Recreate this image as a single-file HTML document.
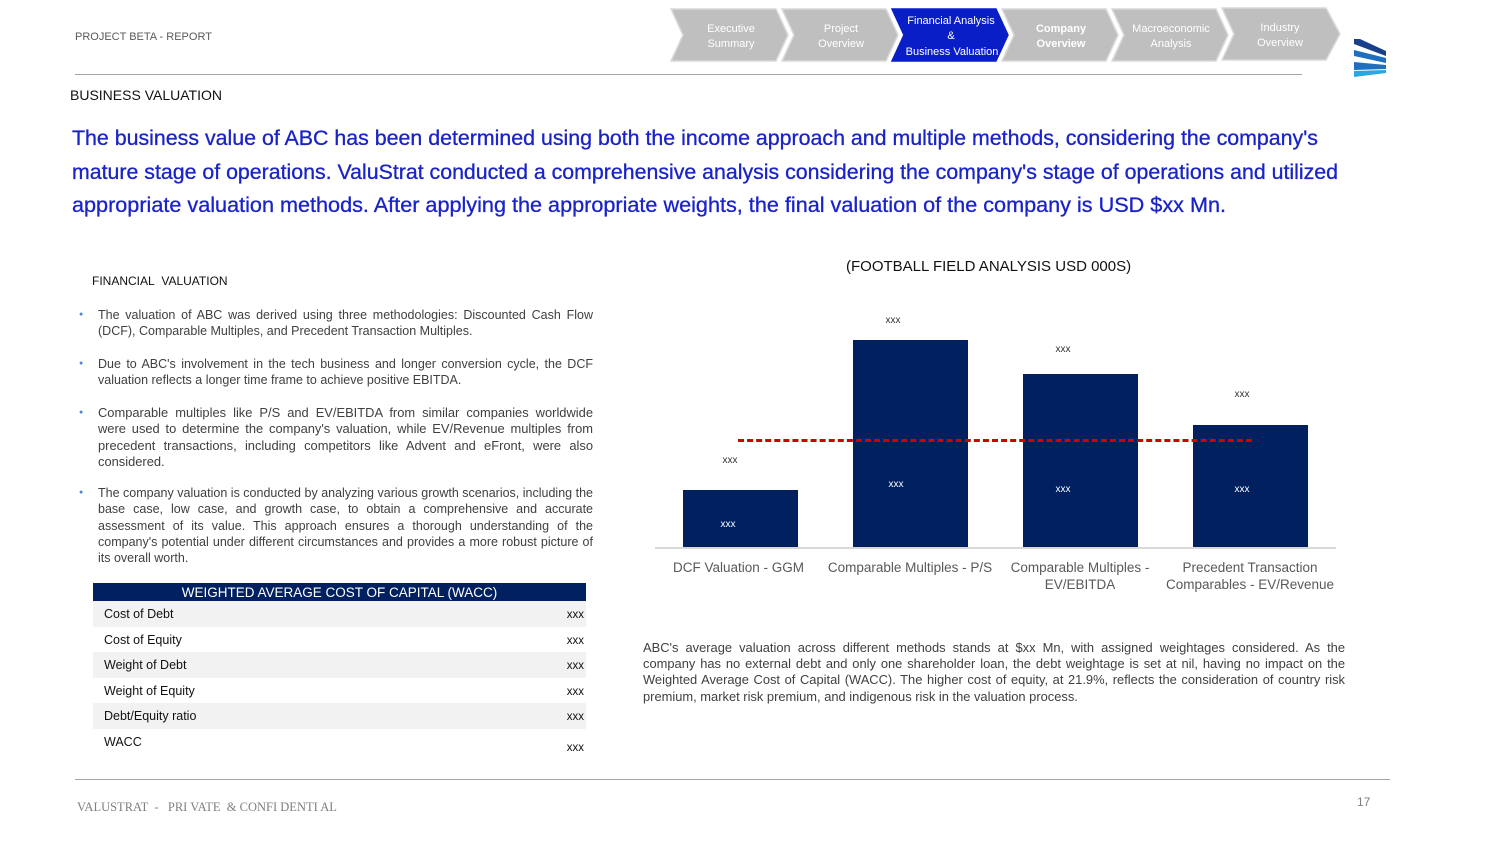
<!DOCTYPE html>
<html><head><meta charset="utf-8"><style>
body{margin:0;width:1500px;height:844px;background:#fff;position:relative;overflow:hidden;font-family:"Liberation Sans",sans-serif}
.a{position:absolute}
.b{font-size:12.5px;color:#404040;line-height:16.3px;text-align:justify;width:495px;left:98px}
.dot{position:absolute;left:-19px;top:0;color:#4a86c8;font-size:7px}
.row{position:absolute;left:93px;width:493px;height:25.5px;font-size:12.5px;color:#111}
.row span{position:absolute;left:11px;top:6px}
.row i{position:absolute;right:2px;top:8px;font-style:normal;font-size:11.5px}
.lab{position:absolute;font-size:13.5px;color:#595959;text-align:center;line-height:17px}
.v{position:absolute;font-size:10px;color:#333;width:60px;text-align:center}
.w{color:#fff}
</style></head><body>
<div class="a" style="left:75px;top:31px;font-size:11px;color:#595959">PROJECT BETA - REPORT</div>
<svg class="a" style="left:668px;top:6px" width="730" height="72">
<g fill="#bfbfbf" stroke="#d9d9d9" stroke-width="1.5">
<polygon points="3,3 108,3 120,29 108,55 3,55 15,29"/>
<polygon points="114,3 218,3 230,29 218,55 114,55 126,29"/>
<polygon points="224,3 328,3 340,29 328,55 224,55 236,29" fill="#0a1ec8" stroke="#0a1ec8"/>
<polygon points="334,3 438,3 450,29 438,55 334,55 346,29"/>
<polygon points="444,3 548,3 560,29 548,55 444,55 456,29"/>
<polygon points="554,2 658,2 672,28 658,54 554,54 566,28"/>
</g>
<g font-family="Liberation Sans,sans-serif" font-size="11" fill="#fff" text-anchor="middle">
<text x="63" y="26">Executive</text><text x="63" y="41">Summary</text>
<text x="173" y="26">Project</text><text x="173" y="41">Overview</text>
<text x="283" y="18">Financial Analysis</text><text x="283" y="33">&amp;</text><text x="284" y="49">Business Valuation</text>
<text x="393" y="26" font-weight="bold">Company</text><text x="393" y="41" font-weight="bold">Overview</text>
<text x="503" y="26">Macroeconomic</text><text x="503" y="41">Analysis</text>
<text x="612" y="25">Industry</text><text x="612" y="40">Overview</text>
</g>
<polygon points="686,33 692,33 718,45 718,50 686,38" fill="#1a3f8a"/>
<polygon points="686,44 718,52 718,57 686,50" fill="#1f6fc0"/>
<polygon points="686,56 718,59 718,63 686,64 686,60" fill="#1f6fc0"/>
<polygon points="686,65 718,64 718,67 686,71" fill="#29a8e0"/>
</svg>
<div class="a" style="left:75px;top:74px;width:1227px;height:1px;background:#a6a6a6"></div>
<div class="a" style="left:70px;top:87px;font-size:14px;color:#111">BUSINESS VALUATION</div>
<svg class="a" style="left:0;top:120px" width="1500" height="110" font-family="Liberation Sans,sans-serif" font-size="21" fill="#1a23c8" stroke="#1a23c8" stroke-width="0.3">
<text x="72" y="25" textLength="1246" lengthAdjust="spacingAndGlyphs">The business value of ABC has been determined using both the income approach and multiple methods, considering the company's</text>
<text x="72" y="59" textLength="1266" lengthAdjust="spacingAndGlyphs">mature stage of operations. ValuStrat conducted a comprehensive analysis considering the company's stage of operations and utilized</text>
<text x="72" y="92" textLength="1154" lengthAdjust="spacingAndGlyphs">appropriate valuation methods. After applying the appropriate weights, the final valuation of the company is USD $xx Mn.</text>
</svg>
<div class="a" style="left:92px;top:274px;font-size:12px;color:#111">FINANCIAL&nbsp; VALUATION</div>
<div class="a b" style="top:307px"><span class="dot">●</span>The valuation of ABC was derived using three methodologies: Discounted Cash Flow (DCF), Comparable Multiples, and Precedent Transaction Multiples.</div>
<div class="a b" style="top:356px"><span class="dot">●</span>Due to ABC's involvement in the tech business and longer conversion cycle, the DCF valuation reflects a longer time frame to achieve positive EBITDA.</div>
<div class="a b" style="top:405px;font-size:12.9px"><span class="dot">●</span>Comparable multiples like P/S and EV/EBITDA from similar companies worldwide were used to determine the company's valuation, while EV/Revenue multiples from precedent transactions, including competitors like Advent and eFront, were also considered.</div>
<div class="a b" style="top:485px"><span class="dot">●</span>The company valuation is conducted by analyzing various growth scenarios, including the base case, low case, and growth case, to obtain a comprehensive and accurate assessment of its value. This approach ensures a thorough understanding of the company's potential under different circumstances and provides a more robust picture of its overall worth.</div>
<div class="a" style="left:93px;top:583px;width:493px;height:18px;background:#002060;color:#fff;font-size:13.5px;text-align:center;line-height:20px">WEIGHTED AVERAGE COST OF CAPITAL (WACC)</div>
<div class="row" style="top:601px;background:#f2f2f2"><span>Cost of Debt</span><i>xxx</i></div>
<div class="row" style="top:626.5px"><span>Cost of Equity</span><i>xxx</i></div>
<div class="row" style="top:652px;background:#f2f2f2"><span>Weight of Debt</span><i>xxx</i></div>
<div class="row" style="top:677.5px"><span>Weight of Equity</span><i>xxx</i></div>
<div class="row" style="top:703px;background:#f2f2f2"><span>Debt/Equity ratio</span><i>xxx</i></div>
<div class="row" style="top:728.5px"><span>WACC</span><i style="top:13px">xxx</i></div>
<div class="a" style="left:846px;top:258px;font-size:15px;color:#111">(FOOTBALL FIELD ANALYSIS USD 000S)</div>
<div class="a" style="left:655px;top:547px;width:681px;height:2px;background:#d9d9d9"></div>
<div class="a" style="left:683px;top:490px;width:115px;height:57px;background:#002060"></div>
<div class="a" style="left:853px;top:340px;width:115px;height:207px;background:#002060"></div>
<div class="a" style="left:1023px;top:374px;width:115px;height:173px;background:#002060"></div>
<div class="a" style="left:1193px;top:425px;width:115px;height:122px;background:#002060"></div>
<div class="a" style="left:738px;top:439px;width:514px;height:0;border-top:3px dashed #d00000"></div>
<div class="v" style="left:700px;top:455px">xxx</div><div class="v w" style="left:698px;top:519px">xxx</div>
<div class="v" style="left:863px;top:315px">xxx</div><div class="v w" style="left:866px;top:479px">xxx</div>
<div class="v" style="left:1033px;top:344px">xxx</div><div class="v w" style="left:1033px;top:484px">xxx</div>
<div class="v" style="left:1212px;top:389px">xxx</div><div class="v w" style="left:1212px;top:484px">xxx</div>
<div class="lab" style="left:660px;top:559px;width:157px">DCF Valuation - GGM</div>
<div class="lab" style="left:820px;top:559px;width:180px">Comparable Multiples - P/S</div>
<div class="lab" style="left:1000px;top:559px;width:160px">Comparable Multiples -<br>EV/EBITDA</div>
<div class="lab" style="left:1160px;top:559px;width:180px">Precedent Transaction<br>Comparables - EV/Revenue</div>
<div class="a" style="left:643px;top:640px;width:702px;font-size:12.9px;color:#404040;line-height:16.2px;text-align:justify">ABC's average valuation across different methods stands at $xx Mn, with assigned weightages considered. As the company has no external debt and only one shareholder loan, the debt weightage is set at nil, having no impact on the Weighted Average Cost of Capital (WACC). The higher cost of equity, at 21.9%, reflects the consideration of country risk premium, market risk premium, and indigenous risk in the valuation process.</div>
<div class="a" style="left:75px;top:779px;width:1315px;height:1px;background:#a6a6a6"></div>
<div class="a" style="left:77px;top:800px;font-family:'Liberation Serif',serif;font-size:12.5px;color:#7f7f7f">VALUSTRAT &nbsp;- &nbsp; PRI VATE &nbsp;&amp; CONFI DENTI AL</div>
<div class="a" style="left:1357px;top:795px;font-size:12px;color:#7f7f7f">17</div>
</body></html>
